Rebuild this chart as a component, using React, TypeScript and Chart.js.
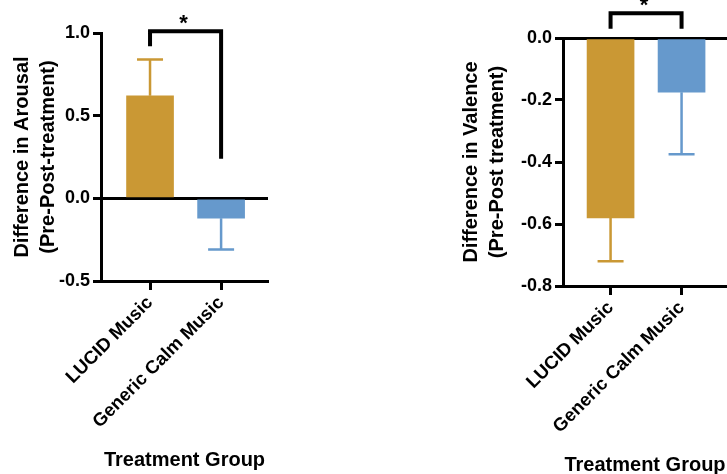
import React, { useEffect, useRef } from "react";
import { Chart, registerables } from "chart.js";

Chart.register(...registerables);

const categories = ["LUCID Music", "Generic Calm Music"];
const barColors = ["#CA9834", "#6699CC"];
const xTitle = "Treatment Group";
const sigLabel = "*";

const arousalMeans = [0.62, -0.12];
const arousalErrors = [0.22, 0.19];
const arousalTicks = [-0.5, 0, 0.5, 1.0];
const arousalTitle = ["Difference in Arousal", "(Pre-Post-treatment)"];
// bracket: level, left leg end, right leg end
const arousalBracket = [1.01, 0.92, 0.24];

const valenceMeans = [-0.58, -0.175];
const valenceErrors = [0.14, 0.2];
const valenceTicks = [-0.8, -0.6, -0.4, -0.2, 0.0];
const valenceTitle = ["Difference in Valence", "(Pre-Post treatment)"];
const valenceBracket = [0.08, 0.03, 0.03];

const FAMILY = "'Liberation Sans', Arial, Helvetica, sans-serif";

type PanelProps = {
  means: number[];
  errors: number[];
  ticks: number[];
  yTitle: string[];
  bracket: number[];
  left: number;
  width: number;
  padding: { left: number; top: number; right: number; bottom: number };
  yWidth: number;
  xHeight: number;
  xMin: number;
  xMax: number;
  xTitlePad: number;
};

const overlay = {
  id: "overlay",
  afterDraw(chart: any, _args: any, opts: any) {
    const { ctx } = chart;
    const xs = chart.scales.x;
    const ys = chart.scales.y;
    const means: number[] = opts.means;
    const errors: number[] = opts.errors;
    ctx.save();
    means.forEach((m, i) => {
      const x = xs.getPixelForValue(i + 1);
      const dir = m >= 0 ? 1 : -1;
      const y0 = ys.getPixelForValue(m);
      const y1 = ys.getPixelForValue(m + dir * errors[i]);
      ctx.strokeStyle = barColors[i];
      ctx.lineWidth = 2.5;
      ctx.beginPath();
      ctx.moveTo(x, y0);
      ctx.lineTo(x, y1);
      ctx.moveTo(x - 13, y1);
      ctx.lineTo(x + 13, y1);
      ctx.stroke();
    });
    const [level, leftEnd, rightEnd] = opts.bracket;
    const x1 = xs.getPixelForValue(1);
    const x2 = xs.getPixelForValue(2);
    const yl = ys.getPixelForValue(level);
    ctx.strokeStyle = "#000";
    ctx.lineWidth = 4;
    ctx.lineJoin = "miter";
    ctx.beginPath();
    ctx.moveTo(x1, ys.getPixelForValue(leftEnd));
    ctx.lineTo(x1, yl);
    ctx.lineTo(x2, yl);
    ctx.lineTo(x2, ys.getPixelForValue(rightEnd));
    ctx.stroke();
    ctx.fillStyle = "#000";
    ctx.font = `bold 22px ${FAMILY}`;
    ctx.textAlign = "center";
    ctx.textBaseline = "alphabetic";
    ctx.fillText(sigLabel, (x1 + x2) / 2 - 2, yl - 1);
    ctx.restore();
  },
};

function Panel(p: PanelProps) {
  const ref = useRef<HTMLCanvasElement>(null);
  useEffect(() => {
    if (!ref.current) return;
    const yTickFont = { family: FAMILY, size: 18, weight: "bold" as const };
    const xTickFont = { family: FAMILY, size: 18.5, weight: "bold" as const };
    const chart = new Chart(ref.current, {
      type: "bar",
      data: {
        datasets: [
          {
            data: p.means.map((m, i) => ({ x: i + 1, y: m })),
            backgroundColor: barColors,
            barThickness: 47,
            borderWidth: 0,
          } as any,
        ],
      },
      options: {
        animation: false,
        responsive: false,
        layout: { padding: p.padding },
        plugins: {
          legend: { display: false },
          tooltip: { enabled: false },
          overlay: { means: p.means, errors: p.errors, bracket: p.bracket },
        } as any,
        scales: {
          x: {
            type: "linear",
            min: p.xMin,
            max: p.xMax,
            offset: false,
            afterBuildTicks: (s: any) => {
              s.ticks = categories.map((_, i) => ({ value: i + 1 }));
            },
            afterFit: (s: any) => {
              s.height = p.xHeight;
            },
            ticks: {
              autoSkip: false,
              minRotation: 45,
              maxRotation: 45,
              color: "#000",
              font: xTickFont,
              padding: 2,
              callback: (v: any) => categories[Number(v) - 1],
            },
            grid: {
              display: true,
              offset: false,
              drawOnChartArea: false,
              drawTicks: true,
              tickLength: 9,
              tickWidth: 3,
              tickColor: "#000",
            },
            border: { display: true, color: "#000", width: 3 },
            title: {
              display: true,
              text: xTitle,
              color: "#000",
              font: { family: FAMILY, size: 20, weight: "bold", lineHeight: 1 },
              padding: { top: 0, bottom: p.xTitlePad },
            },
          } as any,
          y: {
            type: "linear",
            min: p.ticks[0],
            max: p.ticks[p.ticks.length - 1],
            z: 1,
            afterBuildTicks: (s: any) => {
              s.ticks = p.ticks.map((v) => ({ value: v }));
            },
            afterFit: (s: any) => {
              s.width = p.yWidth;
            },
            ticks: {
              color: "#000",
              font: yTickFont,
              padding: 3,
              callback: (v: any) => Number(v).toFixed(1),
            },
            grid: {
              color: (c: any) => (c.tick && Math.abs(c.tick.value) < 1e-9 ? "#000" : "rgba(0,0,0,0)"),
              lineWidth: 3,
              drawTicks: true,
              tickLength: 8,
              tickWidth: 3,
              tickColor: "#000",
            },
            border: { display: true, color: "#000", width: 3 },
            title: {
              display: true,
              text: p.yTitle,
              color: "#000",
              font: { family: FAMILY, size: 20, weight: "bold", lineHeight: 1.3 },
              padding: { top: 9, bottom: 0 },
            },
          } as any,
        },
      },
      plugins: [overlay],
    });
    return () => chart.destroy();
  }, []);
  return (
    <canvas
      ref={ref}
      width={p.width}
      height={474}
      style={{ position: "absolute", left: p.left, top: 0, display: "block" }}
    />
  );
}

export default function App() {
  return (
    <div
      style={{
        position: "fixed",
        left: 0,
        top: 0,
        width: 727,
        height: 474,
        overflow: "hidden",
        background: "#fff",
      }}
    >
      <Panel
        means={arousalMeans}
        errors={arousalErrors}
        ticks={arousalTicks}
        yTitle={arousalTitle}
        bracket={arousalBracket}
        left={0}
        width={360}
        padding={{ left: 0, top: 33, right: 92, bottom: 0 }}
        yWidth={101}
        xHeight={193}
        xMin={0.31}
        xMax={2.66}
        xTitlePad={4}
      />
      <Panel
        means={valenceMeans}
        errors={valenceErrors}
        ticks={valenceTicks}
        yTitle={valenceTitle}
        bracket={valenceBracket}
        left={360}
        width={367}
        padding={{ left: 89, top: 38, right: 0, bottom: 0 }}
        yWidth={114}
        xHeight={188}
        xMin={0.33}
        xMax={2.64}
        xTitlePad={-1}
      />
    </div>
  );
}
